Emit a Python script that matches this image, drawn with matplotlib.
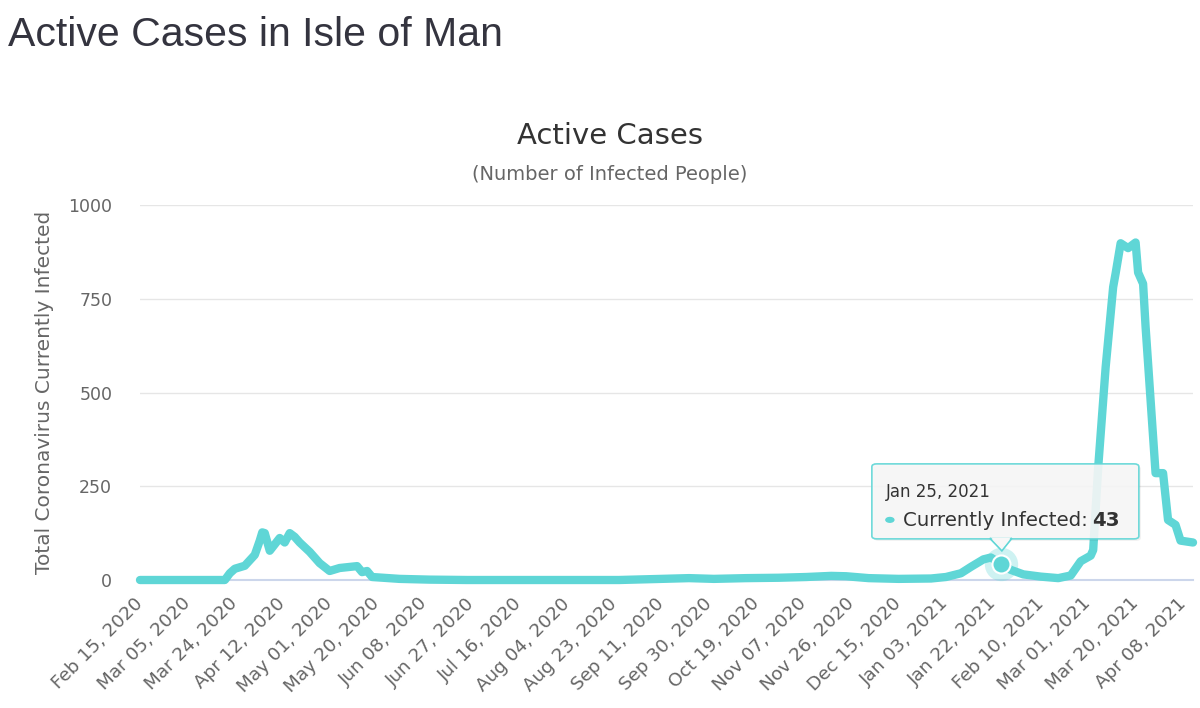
import matplotlib
matplotlib.use('Agg')
import matplotlib.pyplot as plt
import matplotlib.dates as mdates
from matplotlib.patches import FancyBboxPatch, Polygon, Circle
import pandas as pd

# valores (casos activos)
dates = ['2020-02-15', '2020-03-20', '2020-03-22', '2020-03-24', '2020-03-28',
         '2020-04-01', '2020-04-03', '2020-04-04', '2020-04-05', '2020-04-07',
         '2020-04-09', '2020-04-11', '2020-04-13', '2020-04-15', '2020-04-17',
         '2020-04-19', '2020-04-23', '2020-04-27', '2020-05-01', '2020-05-05',
         '2020-05-12', '2020-05-14', '2020-05-16', '2020-05-18', '2020-05-29',
         '2020-06-10', '2020-06-25', '2020-08-25', '2020-09-11', '2020-09-22',
         '2020-10-02', '2020-10-15', '2020-10-28', '2020-11-08', '2020-11-18',
         '2020-11-24', '2020-12-03', '2020-12-15', '2020-12-28', '2021-01-03',
         '2021-01-09', '2021-01-13', '2021-01-18', '2021-01-21', '2021-01-25',
         '2021-01-29', '2021-02-03', '2021-02-10', '2021-02-17', '2021-02-22',
         '2021-02-26', '2021-03-02', '2021-03-03', '2021-03-05', '2021-03-08',
         '2021-03-11', '2021-03-12', '2021-03-14', '2021-03-17', '2021-03-20',
         '2021-03-21', '2021-03-23', '2021-03-24', '2021-03-28', '2021-03-31',
         '2021-04-02', '2021-04-05', '2021-04-07', '2021-04-12']
values = [0, 0, 18, 30, 38,
          67, 105, 127, 125, 78,
          95, 112, 100, 125, 115,
          100, 75, 45, 24, 32,
          37, 21, 24, 8, 3,
          1, 0, 0, 3, 5,
          3, 5, 6, 8, 11,
          10, 5, 3, 4, 8,
          18, 35, 55, 60, 43,
          27, 15, 9, 5, 12,
          50, 65, 80, 300, 568,
          781, 818, 898, 885, 900,
          820, 790, 675, 285, 285,
          160, 147, 105, 100]

tooltip_date = '2021-01-25'
tooltip_value = 43

tick_dates = pd.date_range('2020-02-15', periods=23, freq='19D')
yticks = [0, 250, 500, 750, 1000]

teal = '#5fd6d6'
plt.rcParams['font.family'] = 'DejaVu Sans'
x = mdates.date2num(pd.to_datetime(dates))

fig = plt.figure(figsize=(12, 7.08), dpi=100)
ax = fig.add_axes([140 / 1200, 1 - 580 / 708, (1193 - 140) / 1200, (580 - 205) / 708])

ax.plot(x, values, color=teal, lw=6, solid_joinstyle='round',
        solid_capstyle='round', clip_on=False, zorder=3)
ax.set_xlim(x[0], x[-1])
ax.set_ylim(0, 1000)

ax.set_yticks(yticks)
ax.set_yticklabels([str(v) for v in yticks])
ax.yaxis.grid(True, color='#e6e6e6', lw=1)
ax.set_axisbelow(True)
for s in ['top', 'right', 'left']:
    ax.spines[s].set_visible(False)
ax.spines['bottom'].set_color('#ccd6eb')
ax.spines['bottom'].set_linewidth(1.5)
ax.spines['bottom'].set_zorder(1)

ax.set_xticks(mdates.date2num(tick_dates))
ax.set_xticklabels([d.strftime('%b %d, %Y') for d in tick_dates], rotation=45,
                   ha='right', va='center', rotation_mode='anchor')
ax.tick_params(axis='both', length=0, labelsize=12.5, labelcolor='#666666')
ax.tick_params(axis='x', labelsize=13.2, pad=15)
ax.tick_params(axis='y', pad=20)

ax.set_ylabel('Total Coronavirus Currently Infected', fontsize=14.5, color='#666666',
              labelpad=10)

# titulos
fig.text(8 / 1200, 1 - 46 / 708, 'Active Cases in Isle of Man', fontsize=29.5,
         color='#34343f', fontfamily='Liberation Sans', ha='left', va='baseline')
fig.text(610 / 1200, 1 - 144 / 708, 'Active Cases', fontsize=21, color='#333333',
         ha='center', va='baseline')
fig.text(610 / 1200, 1 - 180 / 708, '(Number of Infected People)', fontsize=14,
         color='#666666', ha='center', va='baseline')

# marcador del tooltip
tx = mdates.date2num(pd.Timestamp(tooltip_date))
ax.plot(tx, tooltip_value, 'o', ms=24, color=teal, alpha=0.3, mew=0, zorder=4, clip_on=False)
ax.plot(tx, tooltip_value, 'o', ms=13, mfc=teal, mec='white', mew=1.5, zorder=5, clip_on=False)

# tooltip
mx, my = ax.transData.transform((tx, tooltip_value))
inv = fig.transFigure.inverted()


def fpos(px, py):
    return inv.transform((px, py))


l, b = fpos(mx - 129, my + 25)
r, t = fpos(mx + 138, my + 100)
ls, bs = fpos(mx - 127, my + 23)
shadow = FancyBboxPatch((ls, bs), r - l, t - b, boxstyle='round,pad=0,rounding_size=0.004',
                        transform=fig.transFigure, facecolor='#000000', alpha=0.06,
                        edgecolor='none', zorder=5.9)
fig.add_artist(shadow)
box = FancyBboxPatch((l, b), r - l, t - b, boxstyle='round,pad=0,rounding_size=0.004',
                     transform=fig.transFigure, facecolor='#f7f7f7', alpha=0.9,
                     edgecolor=teal, lw=1.2, zorder=6)
fig.add_artist(box)
tri = Polygon([fpos(mx - 11, my + 25.5), fpos(mx + 11, my + 25.5), fpos(mx + 1, my + 13)],
              closed=True, transform=fig.transFigure, facecolor='#f7f7f7',
              edgecolor=teal, lw=1.2, zorder=6)
fig.add_artist(tri)
cover = Polygon([fpos(mx - 10, my + 26.5), fpos(mx + 10, my + 26.5), fpos(mx + 1, my + 15)],
                closed=True, transform=fig.transFigure, facecolor='#f7f7f7',
                edgecolor='none', zorder=6.5)
fig.add_artist(cover)

p = fpos(mx - 115, my + 67)
fig.text(p[0], p[1], pd.Timestamp(tooltip_date).strftime('%b %d, %Y'), fontsize=12,
         color='#333333', va='baseline', zorder=7)
p = fpos(mx - 111, my + 44)
fig.add_artist(Circle(p, 4 / 1200, transform=fig.transFigure, color=teal, zorder=7))
p = fpos(mx - 98, my + 38)
t1 = fig.text(p[0], p[1], 'Currently Infected:', fontsize=14.2, color='#333333',
              va='baseline', zorder=7)
fig.canvas.draw()
bb = t1.get_window_extent()
p = fpos(bb.x1 + 5, my + 38)
fig.text(p[0], p[1], str(tooltip_value), fontsize=14.2, color='#333333',
         fontweight='bold', va='baseline', zorder=7)

fig.savefig('out.png', dpi=100, facecolor='white')
